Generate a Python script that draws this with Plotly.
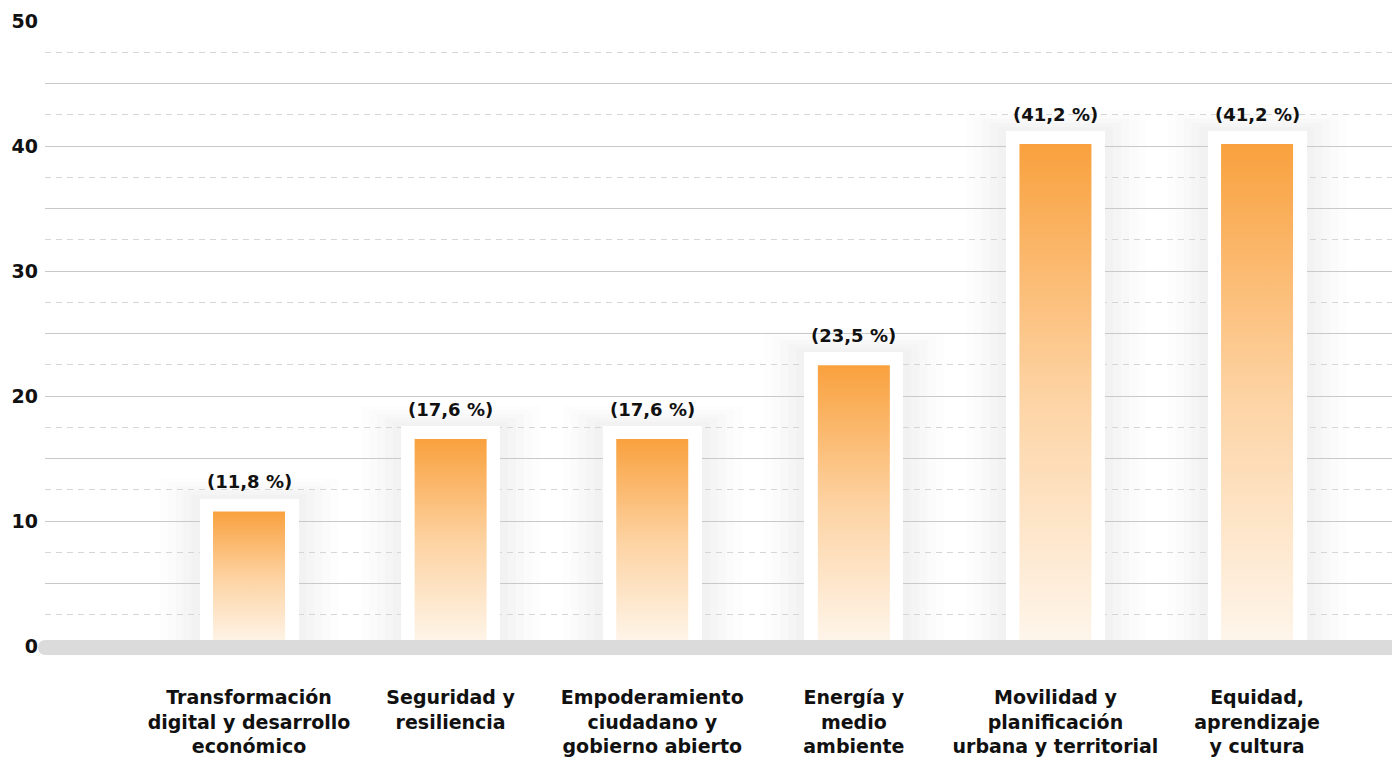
import plotly.graph_objects as go

categories = [
    "Transformación<br>digital y desarrollo<br>económico",
    "Seguridad y<br>resiliencia",
    "Empoderamiento<br>ciudadano y<br>gobierno abierto",
    "Energía y<br>medio<br>ambiente",
    "Movilidad y<br>planificación<br>urbana y territorial",
    "Equidad,<br>aprendizaje<br>y cultura",
]
values = [11.8, 17.6, 17.6, 23.5, 41.2, 41.2]
y_tick_vals = [0, 5, 10, 15, 20, 25, 30, 35, 40, 45, 50]
y_tick_text = ["0", "", "10", "", "20", "", "30", "", "40", "", "50"]
y_minor_vals = [2.5, 7.5, 12.5, 17.5, 22.5, 27.5, 32.5, 37.5, 42.5, 47.5]

# layout / style (page has an 8px body margin)
W, H = 1392, 753
ML, MR, MT, MB = 37, 0, 13, 115
X_RANGE = [-1.012, 5.709]
Y_RANGE = [0, 50]
plot_w = W - ML - MR
plot_h = H - MT - MB
px_x = (X_RANGE[1] - X_RANGE[0]) / plot_w   # data units per pixel (x)
px_y = (Y_RANGE[1] - Y_RANGE[0]) / plot_h   # data units per pixel (y)

FRAME_W = 99 * px_x
BAR_HALF = 36 * px_x
BORDER_Y = 13 * px_y
FONT = "DejaVu Sans"
TXT = "#111111"

fig = go.Figure()

# soft shadows around frames
shapes = []
for i, v in enumerate(values):
    for pad, op in [(40, 0.010), (32, 0.012), (24, 0.015), (16, 0.018), (8, 0.02)]:
        shapes.append(dict(
            type="rect", xref="x", yref="y", layer="below",
            x0=i - FRAME_W / 2 - pad * px_x, x1=i + FRAME_W / 2 + pad * px_x,
            y0=0, y1=v + pad * px_y * 0.5,
            fillcolor=f"rgba(90,90,90,{op})", line=dict(width=0),
        ))

# white frames
fig.add_trace(go.Bar(
    x=list(range(len(values))), y=values, width=FRAME_W,
    marker=dict(color="#ffffff", line=dict(width=0)),
    hoverinfo="skip", showlegend=False,
))

# gradient bars
for i, v in enumerate(values):
    top = v - BORDER_Y
    fig.add_trace(go.Scatter(
        x=[i - BAR_HALF, i + BAR_HALF, i + BAR_HALF, i - BAR_HALF, i - BAR_HALF],
        y=[0, 0, top, top, 0],
        mode="lines", line=dict(width=0), fill="toself",
        fillgradient=dict(type="vertical", start=0, stop=top,
                          colorscale=[[0, "#FEF6EC"], [0.5, "#FDD3A3"], [1, "#F9A13E"]]),
        hoverinfo="skip", showlegend=False,
    ))

# baseline (rounded gray bar), pixel-sized around the plot's bottom-left corner
r = 7.5
L, R, T, B = -7, plot_w - 2, 6, -9
path = (f"M {L + r},{T} L {R - r},{T} Q {R},{T} {R},{T - r} Q {R},{B} {R - r},{B} "
        f"L {L + r},{B} Q {L},{B} {L},{B + r} Q {L},{T} {L + r},{T} Z")
shapes.append(dict(
    type="path", xref="paper", yref="paper", xsizemode="pixel", ysizemode="pixel",
    xanchor=0, yanchor=0, path=path, fillcolor="#dcdbdb", line=dict(width=0),
    layer="above",
))

annotations = []
for i, v in enumerate(values):
    annotations.append(dict(
        x=i, y=v, xref="x", yref="y", text=f"({v:.1f} %)".replace(".", ","),
        showarrow=False, yanchor="middle", yshift=17,
        font=dict(family=FONT, size=18, color=TXT, weight=700),
    ))

fig.update_layout(
    width=W, height=H, margin=dict(l=ML, r=MR, t=MT, b=MB),
    paper_bgcolor="#ffffff", plot_bgcolor="#ffffff",
    shapes=shapes, annotations=annotations, bargap=0, barmode="overlay",
    xaxis=dict(
        range=X_RANGE, tickmode="array", tickvals=list(range(len(categories))),
        ticktext=categories, showgrid=False, zeroline=False, showline=False,
        ticks="", ticklabelstandoff=38,
        tickfont=dict(family=FONT, size=19, color=TXT, weight=700),
    ),
    yaxis=dict(
        range=Y_RANGE, tickmode="array", tickvals=y_tick_vals, ticktext=y_tick_text,
        showgrid=True, gridcolor="#c9c9c9", gridwidth=1, zeroline=False, showline=False,
        ticks="", ticklabelstandoff=6,
        tickfont=dict(family=FONT, size=19, color=TXT, weight=700),
        minor=dict(tickmode="array", tickvals=y_minor_vals, showgrid=True,
                   gridcolor="#d6d6d6", gridwidth=1, griddash="6px,5px"),
    ),
)

fig.write_html("out.html")
